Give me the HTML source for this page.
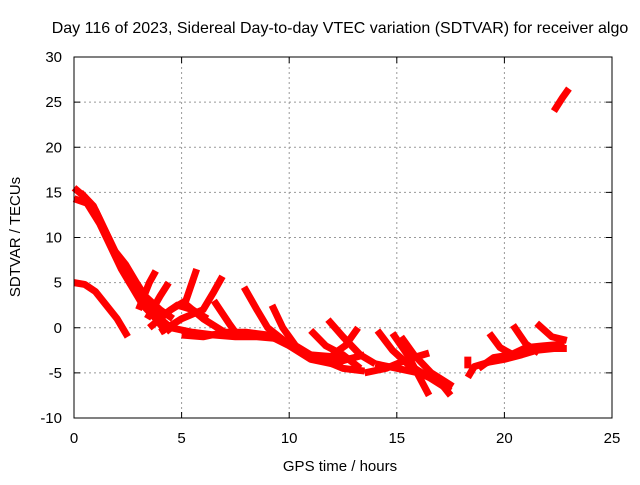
<!DOCTYPE html>
<html><head><meta charset="utf-8"><style>
body{margin:0;background:#fff;width:640px;height:480px;overflow:hidden}
text{font-family:"Liberation Sans",sans-serif;font-size:15px;fill:#000}
</style></head><body>
<svg id="chart" width="640" height="480">
<text x="340" y="33" text-anchor="middle" style="font-size:16px">Day 116 of 2023, Sidereal Day-to-day VTEC variation (SDTVAR) for receiver algo</text>
<text x="340" y="471" text-anchor="middle">GPS time / hours</text>
<text x="0" y="0" transform="translate(20,237) rotate(-90)" text-anchor="middle">SDTVAR / TECUs</text>
<g id="grid"></g><g id="series"></g>
<rect x="74" y="57" width="538" height="361" fill="none" stroke="#000" stroke-width="1"/>
</svg>
<script>
const xTicks=[0,5,10,15,20,25];
const yTicks=[-10,-5,0,5,10,15,20,25,30];
const track1=[[0,15.5],[0.5,14.5],[1,13],[1.5,10.5],[2,8],[2.5,6],[3,4],[3.5,2.5],[4,1],[4.5,0]];
const track1b=[[0,14.3],[0.6,13.8],[1.2,11.5],[1.7,9],[2.2,6.5],[2.7,4.5],[3.2,2.5],[3.8,1],[4.3,-0.5]];
const track1c=[[0.3,15],[0.9,13.5],[1.4,11],[1.9,8.5],[2.4,7],[2.9,5],[3.3,3.5],[4,2],[4.6,1]];
const track2=[[0,5],[0.5,4.8],[1,4],[1.5,2.5],[2,1],[2.5,-1]];
const track3=[[2.2,7],[3,4],[3.5,2],[4,1],[4.5,-0.5]];
const track4=[[3,2],[3.5,5],[3.8,6.3]];
const track5=[[3.4,1],[4,3.5],[4.4,5]];
const track6=[[3.5,0],[4.5,2],[5.2,3],[5.7,6.5]];
const track7=[[4,-0.5],[5,1],[6,2],[6.5,4],[6.9,5.7]];
const track8=[[4.5,0],[5.5,-0.5],[6.5,-0.8],[7.5,-1],[8.5,-1],[9.5,-1.2],[10.5,-2.5],[11.5,-3.5],[12.5,-4.5],[13.5,-4.8]];
const track8b=[[5,-0.8],[6,-1],[7,-0.5],[8,-0.5],[9,-0.8],[10,-2],[11,-3],[12,-3.2],[13,-3.5]];
const track9=[[5,3],[6,1],[7,-0.5],[8,-0.7]];
const track10=[[7.9,4.5],[8.5,2],[9,0],[9.8,-1.5]];
const track11=[[9.2,2.5],[9.7,0],[10.3,-2],[11,-3]];
const track12=[[6.5,3],[7.2,0.5],[7.5,-0.5]];
const track12b=[[3.5,3],[4.2,1.5],[4.8,2.5],[5.5,2],[6.2,1]];
const track13=[[10,-2],[11,-3.5],[12,-4],[12.7,-3.5],[13.5,-3]];
const track14=[[11,-0.3],[11.7,-2],[12.5,-3],[13.3,-4.5]];
const track15=[[11.8,0.9],[12.5,-1],[13.3,-3],[14,-4]];
const track16=[[13.2,0],[12.6,-2],[12,-3]];
const track17=[[14.1,-0.3],[14.8,-2.5],[15.5,-4],[16.5,-5.5],[17.5,-7]];
const track18=[[14.8,-0.6],[15.5,-3],[16.5,-7.5]];
const track19=[[13.5,-5],[14.5,-4.5],[15.5,-3.5],[16.5,-2.8]];
const track20=[[15.2,-1],[15.8,-3],[16.6,-5],[17.6,-6.5]];
const track20b=[[14,-4],[15,-4.5],[16,-5],[17,-6],[17.5,-7.5]];
const track21=[[18.3,-5.5],[18.6,-4.3],[19.3,-3.8],[20,-3.5],[20.8,-3],[21.5,-2.5],[22.3,-2.3],[22.9,-2.3]];
const track21b=[[18.8,-4.5],[19.5,-3.3],[20.3,-3],[21,-2.2],[21.8,-2],[22.8,-1.8]];
const track22=[[19.3,-0.6],[19.8,-2.2],[20.4,-3]];
const track23=[[20.4,0.3],[21,-1.8],[21.6,-2.8]];
const track24=[[21.5,0.5],[22.2,-1],[22.9,-1.4]];
const track25=[[18.3,-3.2],[18.3,-4.5]];
const track26=[[22.3,24],[22.7,25.5],[23,26.5]];
const tracks=[track1,track1b,track1c,track2,track3,track4,track5,track6,track7,track8,track8b,track9,track10,track11,track12,track12b,track13,track14,track15,track16,track17,track18,track19,track20,track20b,track21,track21b,track22,track23,track24,track25,track26];
const X0=74,X1=612,Y0=418,Y1=57;
function sx(h){return X0+(h-0)/(25-0)*(X1-X0);}
function sy(v){return Y0-(v+10)/40*(Y0-Y1);}
const NS="http://www.w3.org/2000/svg";
const grid=document.getElementById('grid');
xTicks.forEach(t=>{
 const x=sx(t);
 if(t>0&&t<25){const l=document.createElementNS(NS,'line');l.setAttribute('x1',x);l.setAttribute('x2',x);l.setAttribute('y1',Y1);l.setAttribute('y2',Y0);l.setAttribute('stroke','#999');l.setAttribute('stroke-dasharray','2,3');
 
 grid.appendChild(l);}
 const tk=document.createElementNS(NS,'path');tk.setAttribute('d',`M${x},${Y0}v-6M${x},${Y1}v6`);tk.setAttribute('stroke','#000');
 
 grid.appendChild(tk);
 const tx=document.createElementNS(NS,'text');tx.setAttribute('x',x);tx.setAttribute('y',443);tx.setAttribute('text-anchor','middle');tx.textContent=t;
 
 grid.appendChild(tx);
});
yTicks.forEach(t=>{
 const y=sy(t);
 if(t>-10&&t<30){const l=document.createElementNS(NS,'line');l.setAttribute('x1',X0);l.setAttribute('x2',X1);l.setAttribute('y1',y);l.setAttribute('y2',y);l.setAttribute('stroke','#999');l.setAttribute('stroke-dasharray','2,3');
 
 grid.appendChild(l);}
 const tk=document.createElementNS(NS,'path');tk.setAttribute('d',`M${X0},${y}h6M${X1},${y}h-6`);tk.setAttribute('stroke','#000');
 
 grid.appendChild(tk);
 const tx=document.createElementNS(NS,'text');tx.setAttribute('x',62);tx.setAttribute('y',y+5);tx.setAttribute('text-anchor','end');tx.textContent=t;
 
 grid.appendChild(tx);
});
const ser=document.getElementById('series');
tracks.forEach((tr,i)=>{
 const p=document.createElementNS(NS,'polyline');
 p.setAttribute('points',tr.map(d=>sx(d[0])+','+sy(d[1])).join(' '));
 p.setAttribute('fill','none');p.setAttribute('stroke','#f00');p.setAttribute('stroke-width','7');p.setAttribute('stroke-linejoin','round');
 
 
 ser.appendChild(p);
});
</script>
</body></html>
